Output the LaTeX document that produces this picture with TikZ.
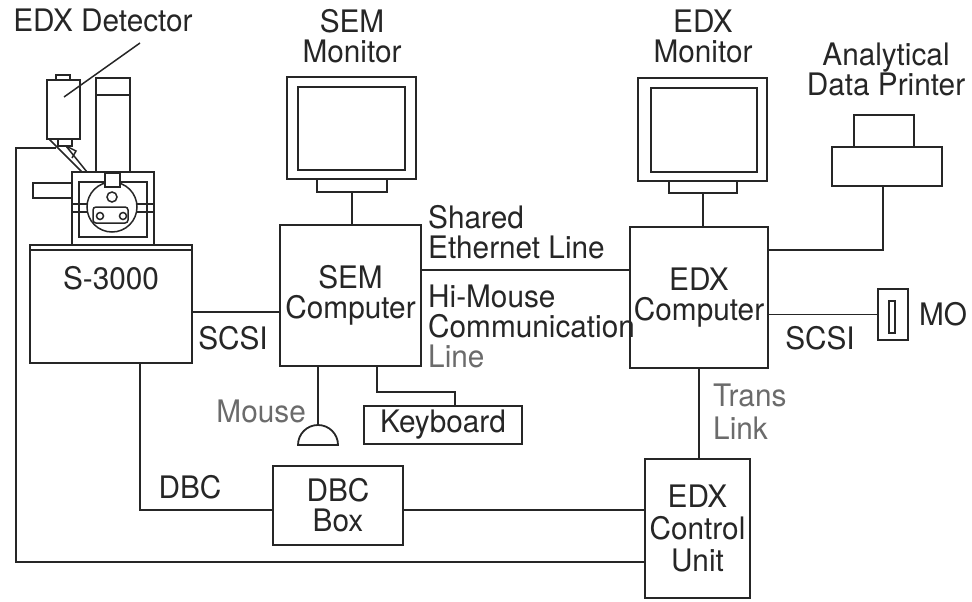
\documentclass[tikz,border=0pt]{standalone}
\usepackage{fontspec}
\setmainfont{TeX Gyre Heros}[FakeStretch=0.96]
\usetikzlibrary{positioning}

\definecolor{ink}{gray}{0.15}
\definecolor{faded}{gray}{0.42}

\tikzset{
	unit/.style={draw=ink, line width=1.8pt, inner sep=0pt, align=center, text=ink},
	txt/.style={text=ink, align=center, inner sep=0pt},
	wire/.style={draw=ink, line width=1.8pt},
	thin wire/.style={draw=ink, line width=1.5pt},
}

\begin{document}
\begin{tikzpicture}[x=1pt, y=-1pt, font=\fontsize{31}{30}\selectfont]
	\useasboundingbox (0,0) rectangle (972,602);

	% microscope column and chamber
	\draw[thin wire] (47,80) rectangle (80,139);
	\draw[thin wire] (56,75) rectangle (70,80);
	\draw[thin wire] (58,139) rectangle (72,146);
	\draw[thin wire] (49,139) -- (82,172);
	\draw[thin wire] (66,146) -- (87,172);
	\draw[thin wire] (68,147) -- (76,151) -- (72,158);
	\draw[thin wire] (96,78) rectangle (130,172);
	\draw[thin wire] (96,95) -- (130,95);
	\draw[thin wire] (72,172) rectangle (154,245);
	\draw[thin wire] (79,182) rectangle (147,237);
	\draw[thin wire] (33,183) rectangle (72,198);
	\foreach \y in {204, 212}{
		\draw[thin wire] (72,\y) -- (88,\y);
		\draw[thin wire] (136,\y) -- (154,\y);
	}
	\draw[thin wire, fill=white] (112,207) circle[radius=25];
	\draw[thin wire, fill=white] (105,173) rectangle (120,187);
	\draw[thin wire] (112,197) circle[radius=5];
	\draw[thin wire, rounded corners=3pt] (93,207) rectangle (128,223);
	\foreach \x in {100, 123}{
		\draw[thin wire] (\x,216) circle[radius=3.5];
	}
	\coordinate (tap) at (56,148);

	% boxes
	\node[unit, minimum width=162, minimum height=118] (s3000) at (111,304) {};
	\draw[wire] ([yshift=-6pt]s3000.north west) -- ([yshift=-6pt]s3000.north east);
	\node[txt, below=22pt of s3000.north] {S-3000};

	\node[unit, minimum width=141, minimum height=141] (semcomp) at (350.5,295.5) {SEM\\Computer};
	\node[unit, minimum width=138, minimum height=141] (edxcomp) at (699,297.5) {EDX\\Computer};

	\node[unit, minimum width=129, minimum height=102] (semmon) at (351.5,128) {};
	\node[unit, minimum width=107, minimum height=83] (semscr) at (351.5,128.5) {};
	\node[unit, minimum width=70, minimum height=13] (semstand) at (352,185.5) {};
	\node[unit, minimum width=129, minimum height=103] (edxmon) at (702.5,129.5) {};
	\node[unit, minimum width=106, minimum height=84] (edxscr) at (704,130) {};
	\node[unit, minimum width=68, minimum height=12] (edxstand) at (703,187) {};

	\node[unit, minimum width=60, minimum height=32] (paper) at (884,131) {};
	\node[unit, minimum width=110, minimum height=39] (printer) at (887,166.5) {};

	\node[unit, minimum width=30, minimum height=51] (mo) at (893,314.5) {};
	\node[unit, line width=1.4pt, minimum width=6, minimum height=32] (moslot) at (892,317) {};
	\node[txt, right=10pt of mo] {MO};

	\node[unit, minimum width=158, minimum height=38] (kbd) at (443,425) {Keyboard};
	\coordinate (mouse) at (318,425);
	\draw[wire] (mouse) ++(-20,20) arc[start angle=180, end angle=360, radius=20] -- cycle;

	\node[unit, minimum width=130, minimum height=79] (dbcbox) at (338,505.5) {DBC\\Box};
	\node[unit, minimum width=105, minimum height=139, font=\fontsize{31}{32}\selectfont] (ctrl) at (697.5,528.5) {EDX\\Control\\Unit};

	% labels
	\node[txt] (detlbl) at (103,20) {EDX Detector};
	\node[txt] at (352,36) {SEM\\Monitor};
	\node[txt] at (703,36) {EDX\\Monitor};
	\node[txt] at (886,69) {Analytical\\Data Printer};
	\node[txt, anchor=west, align=left] at (428,232) {Shared\\Ethernet Line};
	\node[txt, anchor=west, align=left] at (428,326) {Hi-Mouse\\Communication\\\textcolor{faded}{Line}};
	\node[txt, anchor=west, align=left, text=faded, font=\fontsize{31}{33}\selectfont] at (713,412) {Trans\\Link};
	\node[txt, anchor=east, text=faded] at (306,411) {Mouse};
	\node[txt] at (233,338) {SCSI};
	\node[txt] at (820,338) {SCSI};
	\node[txt] at (190,487) {DBC};

	% connections
	\draw[thin wire] (140,43) -- (64,97);
	\draw[wire] (tap) -- (16,148) |- ([yshift=-33.5pt]ctrl.west);
	\draw[wire] ([yshift=-8pt]s3000.east) -- ([yshift=-8pt]s3000.east -| semcomp.west);
	\draw[wire] ([xshift=29pt]s3000.south) |- ([yshift=-4.5pt]dbcbox.west);
	\draw[wire] ([yshift=-4.5pt]dbcbox.east) -- ([yshift=-4.5pt]dbcbox.east -| ctrl.west);
	\draw[wire] (semstand.south) -- (semstand.south |- semcomp.north);
	\draw[wire] (edxstand.south) -- (edxstand.south |- edxcomp.north);
	\draw[wire] ([yshift=25.5pt]semcomp.east) -- ([yshift=25.5pt]semcomp.east -| edxcomp.west);
	\draw[wire] ([yshift=47.5pt]edxcomp.east) -| ([xshift=-4pt]printer.south);
	\draw[wire] (mo.west -| edxcomp.east) -- (mo.west);
	\draw[wire] (edxcomp.south) -- (edxcomp.south |- ctrl.north);
	\draw[wire] ([xshift=26.5pt]semcomp.south) -- ++(0,25) -| ([xshift=12pt]kbd.north);
	\draw[wire] ([xshift=-32.5pt]semcomp.south) -- (mouse);
\end{tikzpicture}
\end{document}
